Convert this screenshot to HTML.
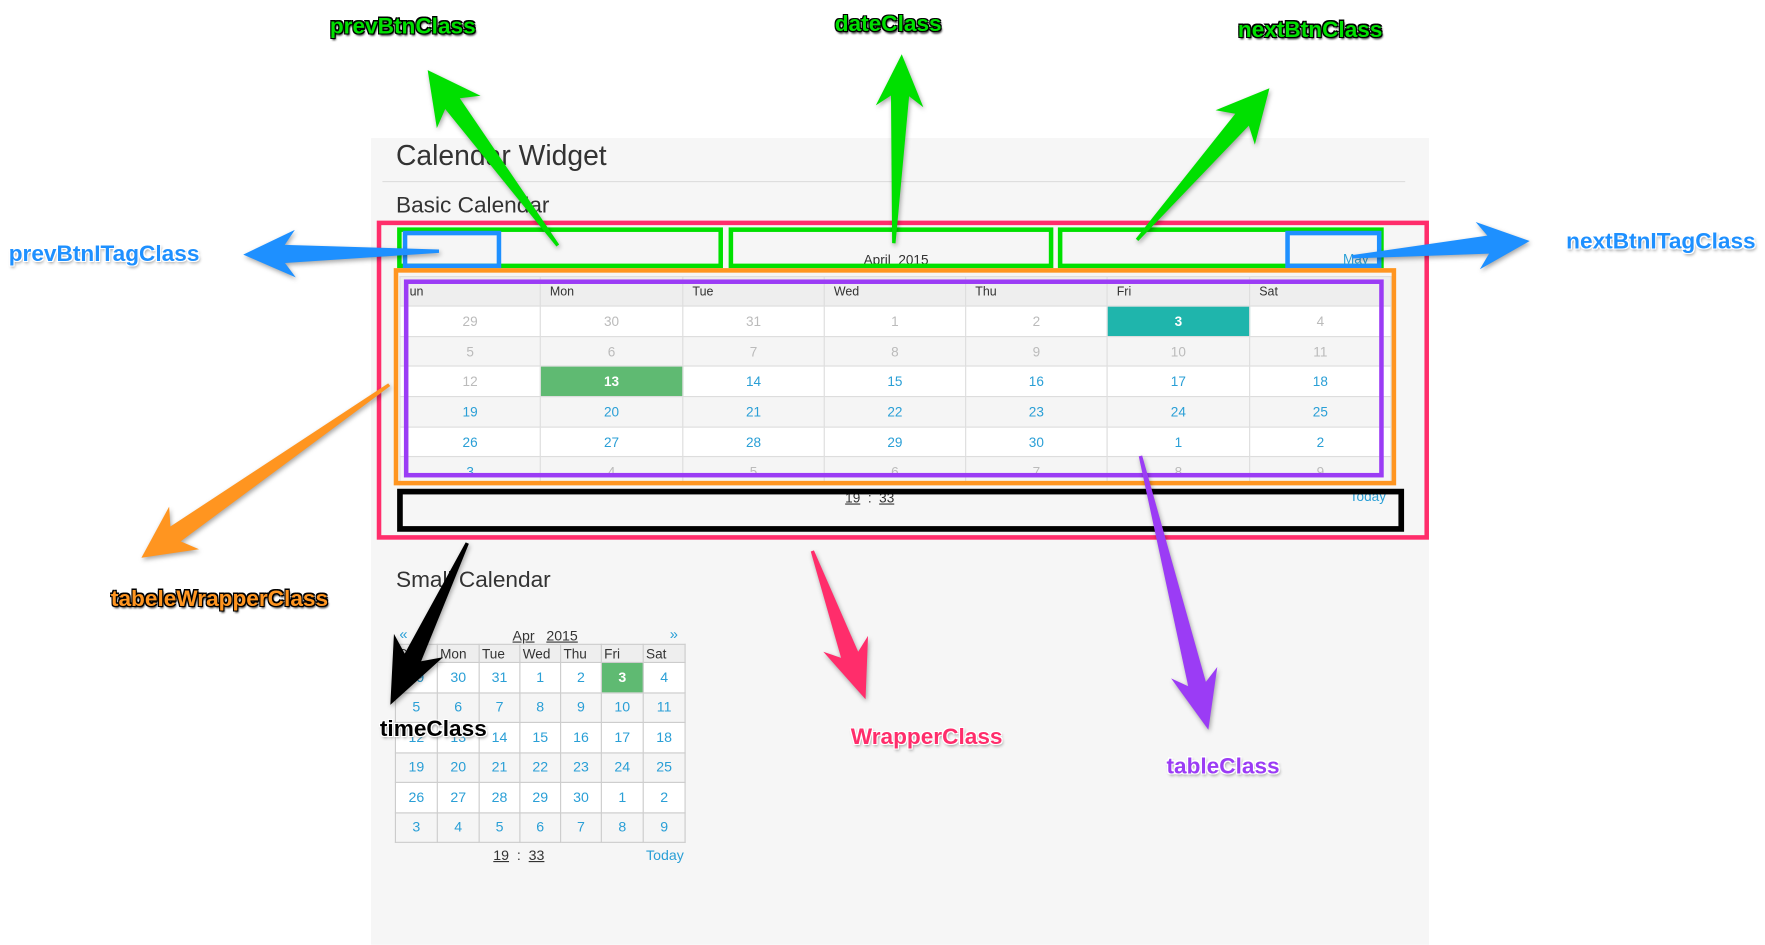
<!DOCTYPE html>
<html><head><meta charset="utf-8"><style>
html,body{margin:0;padding:0;background:#fff;width:1765px;height:940px;overflow:hidden}
#w{position:absolute;left:0;top:0;width:1560px;height:831px;transform:scale(1.13141);transform-origin:0 0;font-family:"Liberation Sans",sans-serif}
.a{position:absolute}
.panel{left:328px;top:122px;width:935px;height:713px;background:#f6f6f6}
h1,h2{margin:0;font-weight:normal;color:#333;position:absolute;white-space:nowrap}
table{border-collapse:collapse;position:absolute;table-layout:fixed}
.big td{border:1px solid #ddd;text-align:center;font-size:12px;height:25.7px;padding:0;color:#bbb}
.big th{border:1px solid #ddd;text-align:left;font-size:11px;font-weight:normal;height:25px;padding:0 0 0 8px;background:#eee;color:#333}
.sm td{border:1px solid #ccc;text-align:center;font-size:12.5px;height:25.5px;padding:0;color:#2a9fd6}
.sm th{border:1px solid #ccc;text-align:left;font-size:12px;font-weight:normal;height:15px;padding:0 0 0 2px;background:#eee;color:#333}
tr.g td{background:#f5f5f5}
tr.wt td{background:#fff}
.b{color:#2a9fd6!important}
.teal{background:#1fb5ac!important;color:#fff!important;font-weight:bold}
.grn{background:#5fba72!important;color:#fff!important;font-weight:bold}
.box{position:absolute;box-sizing:border-box}
.lbl{position:absolute;font-weight:bold;font-size:20px;white-space:nowrap;transform:translate(-50%,-50%)}
u{text-decoration:underline}
</style></head><body><div id="w">
<div class="a panel"></div>
<h1 style="left:350px;top:124px;font-size:25px">Calendar Widget</h1>
<div class="a" style="left:338px;top:160px;width:904px;height:1px;background:#ddd"></div>
<h2 style="left:350px;top:171px;font-size:20px">Basic Calendar</h2>

<div class="a" style="left:0;top:222px;width:1585px;font-size:12px;color:#333;text-align:center;width:0"></div>
<div class="a" style="left:742px;top:223px;width:100px;text-align:center;font-size:12px;color:#333">April&nbsp; 2015</div>
<div class="a" style="left:1187px;top:222px;font-size:12px;color:#2a9fd6">May</div>

<table class="big" style="left:353px;top:244px;width:876px">
<colgroup><col style="width:124px"><col style="width:126px"><col style="width:125px"><col style="width:125px"><col style="width:125px"><col style="width:126px"><col style="width:125px"></colgroup>
<tr><th>un</th><th>Mon</th><th>Tue</th><th>Wed</th><th>Thu</th><th>Fri</th><th>Sat</th></tr>
<tr class="wt"><td>29</td><td>30</td><td>31</td><td>1</td><td>2</td><td class="teal">3</td><td>4</td></tr>
<tr class="g"><td>5</td><td>6</td><td>7</td><td>8</td><td>9</td><td>10</td><td>11</td></tr>
<tr class="wt"><td>12</td><td class="grn">13</td><td class="b">14</td><td class="b">15</td><td class="b">16</td><td class="b">17</td><td class="b">18</td></tr>
<tr class="g"><td class="b">19</td><td class="b">20</td><td class="b">21</td><td class="b">22</td><td class="b">23</td><td class="b">24</td><td class="b">25</td></tr>
<tr class="wt"><td class="b">26</td><td class="b">27</td><td class="b">28</td><td class="b">29</td><td class="b">30</td><td class="b">1</td><td class="b">2</td></tr>
<tr class="g"><td class="b">3</td><td>4</td><td>5</td><td>6</td><td>7</td><td>8</td><td>9</td></tr>
</table>
<div class="a" style="left:353px;top:428px;width:880px;height:6px;background:#f6f6f6"></div>
<div class="a" style="left:747px;top:433px;font-size:12px;color:#333"><u>19</u> &nbsp;:&nbsp; <u>33</u></div>
<div class="a" style="left:1193px;top:432px;font-size:12px;color:#2a9fd6">Today</div>

<!-- boxes -->
<div class="box" style="left:333px;top:195px;width:930px;height:282px;border:4px solid #ff2d6b"></div>
<div class="box" style="left:351px;top:201px;width:288px;height:36px;border:4px solid #00e000"></div>
<div class="box" style="left:644px;top:201px;width:287px;height:36px;border:4px solid #00e000"></div>
<div class="box" style="left:935px;top:201px;width:288px;height:36px;border:4px solid #00e000"></div>
<div class="box" style="left:356px;top:204px;width:87px;height:33px;border:4px solid #1e90ff"></div>
<div class="box" style="left:1136px;top:204px;width:85px;height:33px;border:4px solid #1e90ff"></div>
<div class="box" style="left:348px;top:237px;width:886px;height:192px;border:4px solid #ff9520"></div>
<div class="box" style="left:357px;top:247px;width:866px;height:175px;border:4px solid #9b3cf5"></div>
<div class="box" style="left:351px;top:432px;width:890px;height:38px;border:5px solid #000"></div>

<h2 style="left:350px;top:502px;font-size:20px">Small Calendar</h2>
<div class="a" style="left:353px;top:553px;font-size:13px;color:#2a9fd6">«</div>
<div class="a" style="left:453px;top:555px;font-size:12.5px;color:#333"><u>Apr</u> &nbsp; <u>2015</u></div>
<div class="a" style="left:592px;top:553px;font-size:13px;color:#2a9fd6">»</div>
<table class="sm" style="left:349px;top:569px;width:256px">
<colgroup><col style="width:37px"><col style="width:37px"><col style="width:36px"><col style="width:36px"><col style="width:36px"><col style="width:37px"><col style="width:37px"></colgroup>
<tr><th>S</th><th>Mon</th><th>Tue</th><th>Wed</th><th>Thu</th><th>Fri</th><th>Sat</th></tr>
<tr class="wt"><td>29</td><td>30</td><td>31</td><td>1</td><td>2</td><td class="grn">3</td><td>4</td></tr>
<tr class="g"><td>5</td><td>6</td><td>7</td><td>8</td><td>9</td><td>10</td><td>11</td></tr>
<tr class="wt"><td>12</td><td>13</td><td>14</td><td>15</td><td>16</td><td>17</td><td>18</td></tr>
<tr class="g"><td>19</td><td>20</td><td>21</td><td>22</td><td>23</td><td>24</td><td>25</td></tr>
<tr class="wt"><td>26</td><td>27</td><td>28</td><td>29</td><td>30</td><td>1</td><td>2</td></tr>
<tr class="g"><td>3</td><td>4</td><td>5</td><td>6</td><td>7</td><td>8</td><td>9</td></tr>
</table>
<div class="a" style="left:436px;top:749px;font-size:12.5px;color:#333"><u>19</u> &nbsp;:&nbsp; <u>33</u></div>
<div class="a" style="left:571px;top:749px;font-size:12.5px;color:#2a9fd6">Today</div>

<svg class="a" style="left:0;top:0;filter:drop-shadow(1px 2px 2px rgba(0,0,0,.35))" width="1560" height="831" id="arr"></svg>

<div class="lbl" style="left:356px;top:24px;color:#00e000;text-shadow:-1px -1px 0 #000,1px -1px 0 #000,-1px 1px 0 #000,1px 1px 0 #000,1px 2px 2px #000">prevBtnClass</div>
<div class="lbl" style="left:785px;top:22px;color:#00e000;text-shadow:-1px -1px 0 #000,1px -1px 0 #000,-1px 1px 0 #000,1px 1px 0 #000,1px 2px 2px #000">dateClass</div>
<div class="lbl" style="left:1158px;top:27px;color:#00e000;text-shadow:-1px -1px 0 #000,1px -1px 0 #000,-1px 1px 0 #000,1px 1px 0 #000,1px 2px 2px #000">nextBtnClass</div>
<div class="lbl" style="left:92px;top:225px;color:#1e90ff;text-shadow:-1px -1px 0 #fff,1px -1px 0 #fff,-1px 1px 0 #fff,1px 1px 0 #fff,1px 2px 3px #888">prevBtnITagClass</div>
<div class="lbl" style="left:1468px;top:214px;color:#1e90ff;text-shadow:-1px -1px 0 #fff,1px -1px 0 #fff,-1px 1px 0 #fff,1px 1px 0 #fff,1px 2px 3px #888">nextBtnITagClass</div>
<div class="lbl" style="left:194px;top:530px;color:#ff9520;text-shadow:-1px -1px 0 #000,1px -1px 0 #000,-1px 1px 0 #000,1px 1px 0 #000,1px 2px 2px #000">tabeleWrapperClass</div>
<div class="lbl" style="left:383px;top:645px;color:#000;text-shadow:-1px -1px 0 #fff,1px -1px 0 #fff,-1px 1px 0 #fff,1px 1px 0 #fff,1px 2px 3px #888">timeClass</div>
<div class="lbl" style="left:819px;top:652px;color:#ff2d6b;text-shadow:-1px -1px 0 #fff,1px -1px 0 #fff,-1px 1px 0 #fff,1px 1px 0 #fff,1px 2px 3px #888">WrapperClass</div>
<div class="lbl" style="left:1081px;top:678px;color:#9b3cf5;text-shadow:-1px -1px 0 #fff,1px -1px 0 #fff,-1px 1px 0 #fff,1px 1px 0 #fff,1px 2px 3px #888">tableClass</div>
</div>
<script>
var A=[
[493,217,378,62,'#00e000',46,48],
[790,215,797,48,'#00e000',46,42],
[1005,212,1122,78,'#00e000',46,46],
[388,222,215,225,'#1e90ff',46,42],
[1195,227,1352,213,'#1e90ff',46,42],
[344,340,125,493,'#ff9520',46,46],
[413,480,345,623,'#000',58,48],
[718,487,765,618,'#ff2d6b',52,42],
[1008,403,1068,645,'#9b3cf5',52,42]];
var s='';
A.forEach(function(a){
var x1=a[0],y1=a[1],x2=a[2],y2=a[3],L=a[5],H=a[6];
var dx=x2-x1,dy=y2-y1,d=Math.sqrt(dx*dx+dy*dy),ux=dx/d,uy=dy/d,px=-uy,py=ux;
var nx=x2-ux*L,ny=y2-uy*L,w0=1.5,w1=8,h=H/2;
var bx=x2-ux*L*0.8,by=y2-uy*L*0.8;
var P=[[x1+px*w0,y1+py*w0],[bx+px*w1,by+py*w1],[nx+px*h,ny+py*h],[x2,y2],[nx-px*h,ny-py*h],[bx-px*w1,by-py*w1],[x1-px*w0,y1-py*w0]];
s+='<polygon fill="'+a[4]+'" points="'+P.map(function(p){return p[0].toFixed(1)+','+p[1].toFixed(1)}).join(' ')+'"/>';
});
document.getElementById('arr').innerHTML=s;
</script>
</body></html>
